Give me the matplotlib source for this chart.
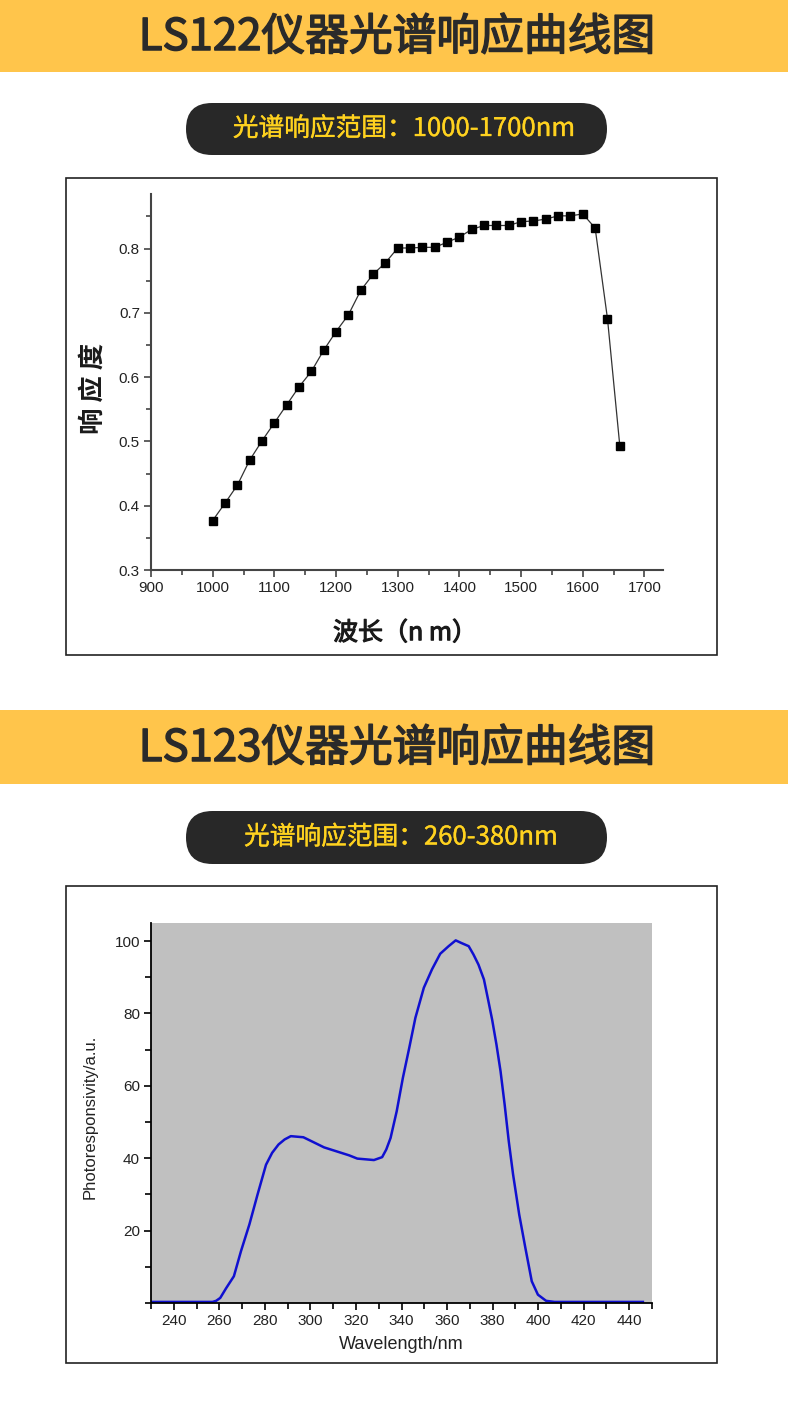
import matplotlib
matplotlib.use('Agg')

import matplotlib.pyplot as plt
import matplotlib.patheffects as pe
from matplotlib.patches import Rectangle, FancyBboxPatch
from matplotlib.ticker import MultipleLocator

plt.rcParams['font.family'] = ['Noto Sans CJK SC', 'DejaVu Sans']

# ---------------- 数据 ----------------
# LS122: 1000-1660 nm, 每 20 nm 一个点
ls122_wave = [1000, 1020, 1040, 1060, 1080, 1100, 1120, 1140, 1160, 1180,
              1200, 1220, 1240, 1260, 1280, 1300, 1320, 1340, 1360, 1380,
              1400, 1420, 1440, 1460, 1480, 1500, 1520, 1540, 1560, 1580,
              1600, 1620, 1640, 1660]
ls122_resp = [0.377, 0.404, 0.432, 0.471, 0.501, 0.529, 0.557, 0.585, 0.609, 0.642,
              0.671, 0.697, 0.735, 0.760, 0.778, 0.801, 0.801, 0.802, 0.802, 0.810,
              0.818, 0.830, 0.836, 0.836, 0.836, 0.842, 0.843, 0.846, 0.851, 0.851,
              0.854, 0.832, 0.691, 0.493]

# LS123: 光谱曲线
ls123_wave = [230, 257, 258.6, 260.4, 263, 266.4, 269.5, 273.2, 276.8, 280.5,
              283.2, 286, 288.7, 291.4, 296.9, 300.5, 306, 311.5, 317, 320.6,
              327.9, 331.5, 333.3, 335.2, 337.9, 340.6, 343.4, 346.1, 349.8, 353.4,
              357, 360.7, 363.8, 366.2, 369.5, 371.6, 373.8, 376.2, 378, 379.8,
              381.7, 383.5, 385.3, 387.1, 389, 391.7, 394.4, 397.2, 399.9, 403.5,
              407.2, 446]
ls123_resp = [0.3, 0.3, 0.6, 1.4, 4.1, 7.4, 14.3, 21.7, 30.0, 38.2,
              41.5, 43.8, 45.2, 46.1, 45.8, 44.7, 43.0, 41.9, 40.8, 39.9,
              39.5, 40.3, 42.4, 45.6, 53.0, 62.2, 70.5, 78.8, 87.1, 92.2,
              96.5, 98.6, 100.2, 99.5, 98.6, 96.3, 93.5, 89.4, 83.9, 78.3,
              71.4, 64.0, 54.8, 44.7, 35.5, 24.4, 15.2, 6.0, 2.3, 0.6,
              0.3, 0.3]

titles = ["LS122仪器光谱响应曲线图", "LS123仪器光谱响应曲线图"]
ranges = ["光谱响应范围：1000-1700nm", "光谱响应范围：260-380nm"]

# ---------------- 画布 ----------------
W, H = 788, 1424
fig = plt.figure(figsize=(W / 100, H / 100), dpi=100)
fig.patch.set_facecolor('white')

# 背景层: 像素坐标
bg = fig.add_axes([0, 0, 1, 1])
bg.set_xlim(0, W)
bg.set_ylim(H, 0)
bg.axis('off')

YELLOW = '#FFC54B'
DARK = '#282828'
GOLD = '#FFD21F'
TITLE_C = '#2a2a2a'

banners = [(0, 72), (710, 784)]
pills = [(103, 155), (811, 864)]
boxes = [(178, 655), (886, 1363)]
text_x = [404, 401]

# 常规字重加一点描边 → 接近 Medium
medium_title = [pe.withStroke(linewidth=1.1, foreground=TITLE_C)]
medium_pill = [pe.withStroke(linewidth=0.25, foreground=GOLD)]

for i in range(2):
    top, bot = banners[i]
    bg.add_patch(Rectangle((0, top), W, bot - top, color=YELLOW, lw=0))
    bg.text(397, (top + bot) / 2 + 1, titles[i], ha='center', va='center',
            fontsize=31.5, color=TITLE_C, path_effects=medium_title)

    ptop, pbot = pills[i]
    r = (pbot - ptop) / 2
    bg.add_patch(FancyBboxPatch((186, ptop), 421, pbot - ptop,
                                boxstyle=f"round,pad=0,rounding_size={r}",
                                fc=DARK, ec='none'))
    bg.text(text_x[i], (ptop + pbot) / 2, ranges[i], ha='center', va='center',
            fontsize=18.5, color=GOLD, path_effects=medium_pill)

    btop, bbot = boxes[i]
    bg.add_patch(Rectangle((66.5, btop), 651, bbot - btop, fc='none',
                           ec='#222222', lw=1.2))


def axes_px(left, top, right, bottom):
    return [left / W, 1 - bottom / H, (right - left) / W, (bottom - top) / H]


tick_font = dict(family='Liberation Sans', size=11)

# ---------------- 图 1: LS122 ----------------
ax1 = fig.add_axes(axes_px(151, 194, 663, 570))
ax1.plot(ls122_wave, ls122_resp, color='#333333', lw=0.9,
         marker='s', markersize=6, markerfacecolor='black',
         markeredgecolor='black')
ax1.set_xlim(900, 1730)
ax1.set_ylim(0.3, 0.885)
ax1.set_xticks(range(900, 1701, 100))
ax1.set_yticks([0.3, 0.4, 0.5, 0.6, 0.7, 0.8])
ax1.xaxis.set_minor_locator(MultipleLocator(50))
ax1.yaxis.set_minor_locator(MultipleLocator(0.05))
for s in ['top', 'right']:
    ax1.spines[s].set_visible(False)
for s in ['left', 'bottom']:
    ax1.spines[s].set_color('#444444')
    ax1.spines[s].set_linewidth(1.5)
ax1.tick_params(which='both', direction='out', color='#444444', width=1.2)
ax1.tick_params(which='major', length=5, pad=3)
ax1.tick_params(which='minor', length=3.5)
for lab in ax1.get_xticklabels() + ax1.get_yticklabels():
    lab.set_fontproperties(tick_font)
    lab.set_color('#222222')
ax1.set_xlabel("波长（n m）", fontsize=18, va='center', color='#1a1a1a',
               path_effects=[pe.withStroke(linewidth=0.8, foreground='#1a1a1a')])
ax1.set_ylabel("响 应 度", fontsize=19, fontweight='bold', va='center',
               color='#1a1a1a')
ax1.xaxis.set_label_coords(0.496, -0.168)
ax1.yaxis.set_label_coords(-0.113, 0.484)

# ---------------- 图 2: LS123 ----------------
ax2 = fig.add_axes(axes_px(151, 923, 652, 1303))
ax2.set_facecolor('#C0C0C0')
ax2.plot(ls123_wave, ls123_resp, color='#1010D0', lw=1.8)
ax2.set_xlim(230, 450)
ax2.set_ylim(0, 105)
ax2.set_xticks(range(240, 441, 20))
ax2.set_yticks([20, 40, 60, 80, 100])
ax2.xaxis.set_minor_locator(MultipleLocator(10))
ax2.yaxis.set_minor_locator(MultipleLocator(10))
for s in ['top', 'right']:
    ax2.spines[s].set_visible(False)
for s in ['left', 'bottom']:
    ax2.spines[s].set_color('black')
    ax2.spines[s].set_linewidth(1.3)
ax2.tick_params(which='both', direction='out', color='black', width=1.2)
ax2.tick_params(which='major', length=5, pad=3)
ax2.tick_params(which='minor', length=4)
for lab in ax2.get_xticklabels() + ax2.get_yticklabels():
    lab.set_fontproperties(tick_font)
    lab.set_color('#222222')
ax2.set_xlabel("Wavelength/nm", family='Liberation Sans', fontsize=13,
               color='#222222', va='center')
ax2.set_ylabel("Photoresponsivity/a.u.", family='Liberation Sans', fontsize=12,
               color='#222222', va='center')
ax2.xaxis.set_label_coords(0.499, -0.11)
ax2.yaxis.set_label_coords(-0.122, 0.489)

fig.savefig("out.png", dpi=100)
plt.close(fig)
